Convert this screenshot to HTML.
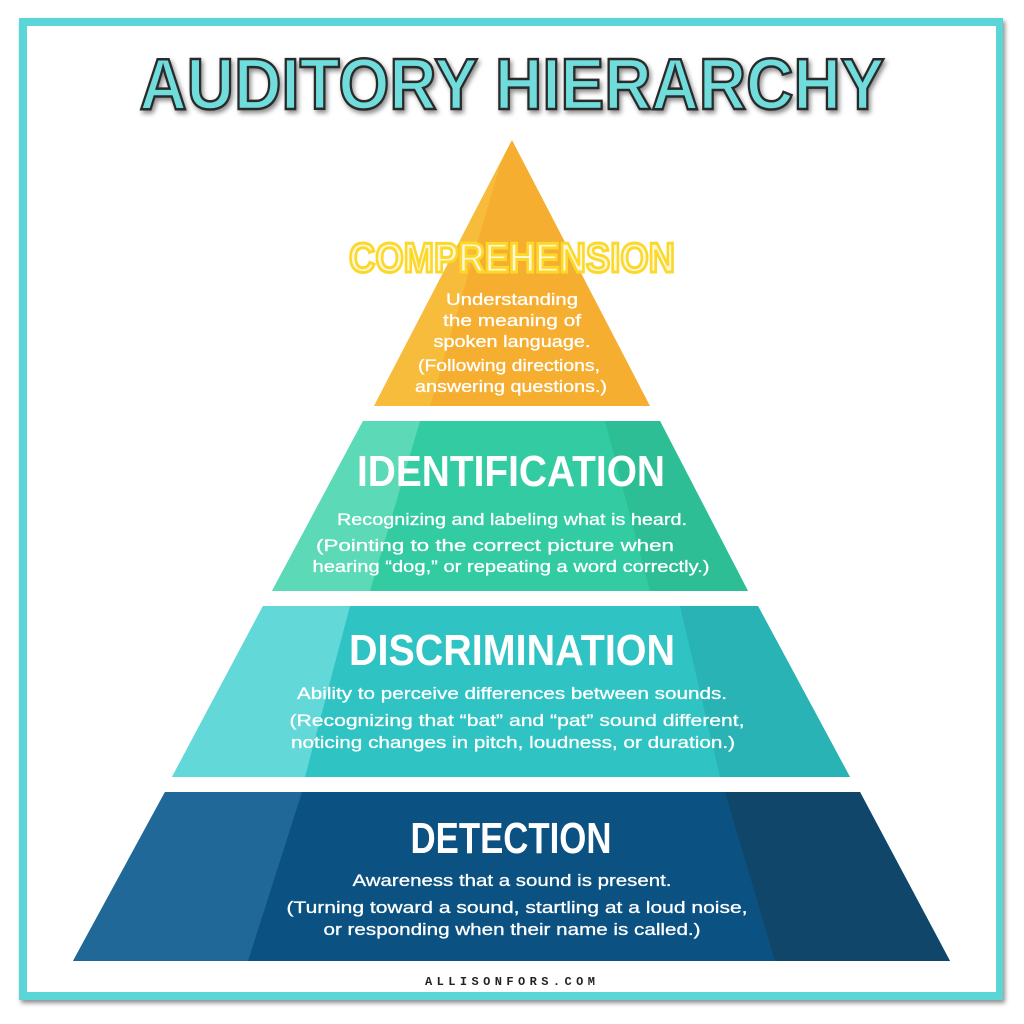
<!DOCTYPE html>
<html><head><meta charset="utf-8"><style>
html,body{margin:0;padding:0;background:#fff;}
svg{display:block}
</style></head><body>
<svg width="1024" height="1024" viewBox="0 0 1024 1024" xmlns="http://www.w3.org/2000/svg">
<defs>
<filter id="sh" x="-5%" y="-5%" width="110%" height="110%"><feDropShadow dx="2" dy="3" stdDeviation="2.5" flood-color="#000" flood-opacity="0.45"/></filter>
</defs>
<rect x="0" y="0" width="1024" height="1024" fill="#fff"/>
<rect x="19" y="18" width="984" height="982" fill="#5ad6d6" filter="url(#sh)"/>
<rect x="27" y="26" width="969" height="966" fill="#fff"/>

<!-- Title -->
<text x="512" y="109" text-anchor="middle" textLength="745" lengthAdjust="spacingAndGlyphs" font-family="Liberation Sans, DejaVu Sans, sans-serif" font-weight="bold" font-size="72" fill="#6fdcdc" stroke="#2a2a2a" stroke-width="2.5" filter="url(#sh)">AUDITORY HIERARCHY</text>

<!-- Comprehension -->
<polygon points="512,140 374,406 650,406" fill="#f5ae2f"/>
<polygon points="512,140 374,406 430,406 500,165" fill="#f8bc3c"/>
<!-- Identification -->
<polygon points="363,421 660,421 748,591 272,591" fill="#33cba1"/>
<polygon points="363,421 420,421 370,591 272,591" fill="#5cd9b6"/>
<polygon points="605,421 660,421 748,591 650,591" fill="#2ebe95"/>
<!-- Discrimination -->
<polygon points="263,606 758,606 850,777 172,777" fill="#2fc3c3"/>
<polygon points="263,606 350,606 305,777 172,777" fill="#62d8d8"/>
<polygon points="680,606 758,606 850,777 720,777" fill="#29b3b5"/>
<!-- Detection -->
<polygon points="165,792 860,792 950,961 73,961" fill="#0b5282"/>
<polygon points="165,792 302,792 248,961 73,961" fill="#206898"/>
<polygon points="725,792 860,792 950,961 775,961" fill="#0f4669"/>

<g font-family="Liberation Sans, DejaVu Sans, sans-serif" text-anchor="middle">
<text x="512" y="272" textLength="326" lengthAdjust="spacingAndGlyphs" font-size="42" font-weight="bold" fill="#fff7d6" stroke="#fcd82a" stroke-width="3">COMPREHENSION</text>
<text x="511" y="486" textLength="308" lengthAdjust="spacingAndGlyphs" font-size="44" font-weight="bold" fill="#fff">IDENTIFICATION</text>
<text x="512" y="665" textLength="326" lengthAdjust="spacingAndGlyphs" font-size="44" font-weight="bold" fill="#fff">DISCRIMINATION</text>
<text x="511" y="853" textLength="201" lengthAdjust="spacingAndGlyphs" font-size="44" font-weight="bold" fill="#fff">DETECTION</text>

<g fill="#fff" font-size="17" stroke="#fff" stroke-width="0.3">
<text x="512" y="305" textLength="132" lengthAdjust="spacingAndGlyphs">Understanding</text>
<text x="512" y="326" textLength="138" lengthAdjust="spacingAndGlyphs">the meaning of</text>
<text x="512" y="347" textLength="157" lengthAdjust="spacingAndGlyphs">spoken language.</text>
<text x="509" y="371" textLength="182" lengthAdjust="spacingAndGlyphs">(Following directions,</text>
<text x="511" y="392" textLength="192" lengthAdjust="spacingAndGlyphs">answering questions.)</text>

<text x="512" y="525" textLength="350" lengthAdjust="spacingAndGlyphs">Recognizing and labeling what is heard.</text>
<text x="495" y="551" textLength="358" lengthAdjust="spacingAndGlyphs">(Pointing to the correct picture when</text>
<text x="511" y="572" textLength="397" lengthAdjust="spacingAndGlyphs">hearing “dog,” or repeating a word correctly.)</text>

<text x="512" y="699" textLength="430" lengthAdjust="spacingAndGlyphs">Ability to perceive differences between sounds.</text>
<text x="517" y="726" textLength="455" lengthAdjust="spacingAndGlyphs">(Recognizing that “bat” and “pat” sound different,</text>
<text x="513" y="748" textLength="444" lengthAdjust="spacingAndGlyphs">noticing changes in pitch, loudness, or duration.)</text>

<text x="512" y="886" textLength="319" lengthAdjust="spacingAndGlyphs">Awareness that a sound is present.</text>
<text x="517" y="913" textLength="461" lengthAdjust="spacingAndGlyphs">(Turning toward a sound, startling at a loud noise,</text>
<text x="512" y="935" textLength="377" lengthAdjust="spacingAndGlyphs">or responding when their name is called.)</text>
</g>
<text x="510" y="985" textLength="170" lengthAdjust="spacing" font-size="12" font-weight="bold" fill="#222" font-family="Liberation Mono, monospace">ALLISONFORS.COM</text>
</g>
</svg>
</body></html>
